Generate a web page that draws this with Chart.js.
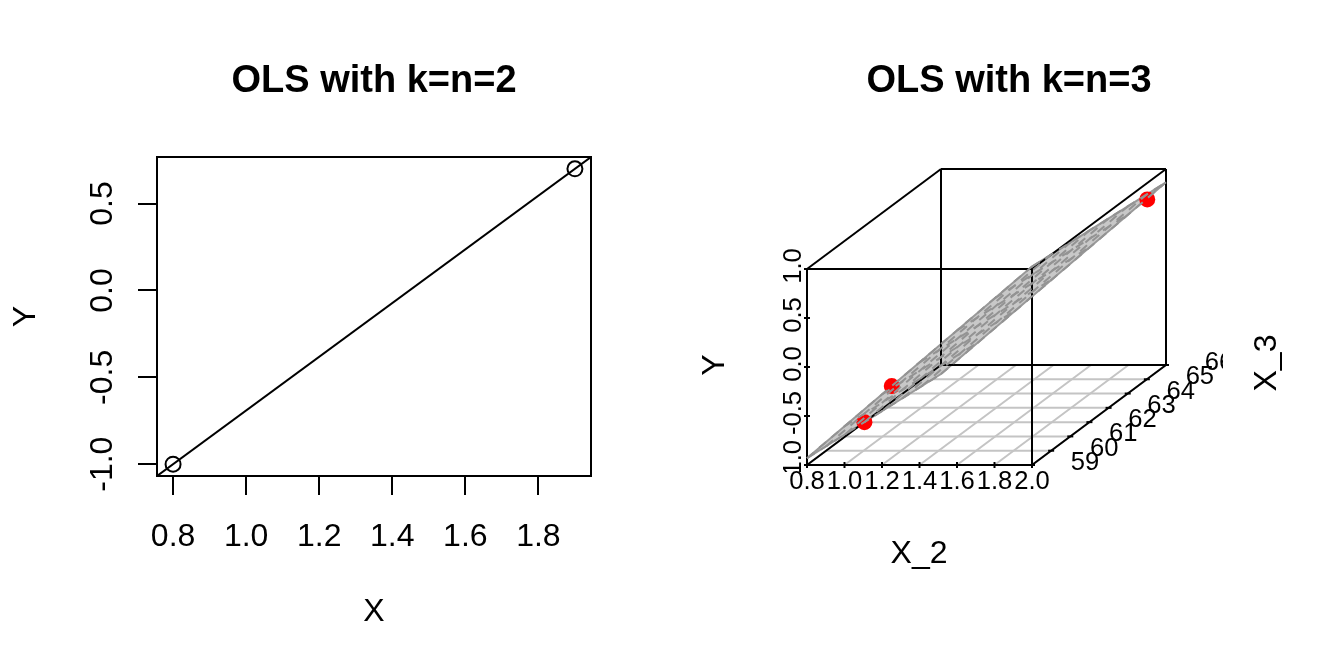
<!DOCTYPE html>
<html>
<head>
<meta charset="utf-8">
<title>OLS with k=n</title>
<script src="https://cdn.jsdelivr.net/npm/chart.js@4"></script>
<style>
    html, body { margin: 0; padding: 0; background: #ffffff; overflow: hidden; }
    canvas { position: absolute; top: 0; }
    #leftChart { left: 0; }
    #rightChart { left: 672px; }
</style>
</head>
<body>
<canvas id="leftChart" width="672" height="672"></canvas>
<canvas id="rightChart" width="672" height="672"></canvas>
<script>
// Left panel data
const leftX = [0.8, 1.9];
const leftY = [-1, 0.7];
const fitX = [0.756, 1.944];
const fitY = [-1.068, 0.768];
const leftXTicks = [0.8, 1.0, 1.2, 1.4, 1.6, 1.8];
const leftYTicks = [-1.0, -0.5, 0.0, 0.5];

// Right panel data
const x2Ticks = [0.8, 1.0, 1.2, 1.4, 1.6, 1.8, 2.0];
const x3Ticks = [59, 60, 61, 62, 63, 64, 65, 66];
const yTicks = [-1.0, -0.5, 0.0, 0.5, 1.0];
const pointX2 = [0.8, 1.15, 1.9];
const pointX3 = [62, 60, 66];
const pointY = [-1, -0.34, 0.69];

// Plane heights read along its edges
const planeYAtX2Low = [-0.931, -0.954, -0.977, -1.0, -1.023, -1.046, -1.069, -1.092];
const planeYAtX2High = [1.025, 1.002, 0.979, 0.956, 0.933, 0.91, 0.887, 0.864];
const planeYAtX3Low = [-0.931, -0.605, -0.279, 0.047, 0.373, 0.699, 1.025];
const planeYAtX3High = [-1.092, -0.766, -0.44, -0.114, 0.212, 0.538, 0.864];

const FONT = '"Liberation Sans", Arial, sans-serif';
const BLACK = '#000000';
const LINE_W = 2;

Chart.defaults.font.family = FONT;
Chart.defaults.color = BLACK;
Chart.defaults.animation = false;

// Draws the full frame round the left plot
const framePlugin = {
    id: 'frame',
    afterDatasetsDraw(chart) {
        const a = chart.chartArea;
        const ctx = chart.ctx;
        ctx.save();
        ctx.strokeStyle = BLACK;
        ctx.lineWidth = LINE_W;
        ctx.strokeRect(a.left, a.top, a.right - a.left, a.bottom - a.top);
        ctx.restore();
    }
};

new Chart(document.getElementById('leftChart'), {
    type: 'scatter',
    data: {
        datasets: [{
            data: leftX.map((x, i) => ({ x: x, y: leftY[i] })),
            pointStyle: 'circle',
            pointRadius: 7.5,
            borderColor: BLACK,
            borderWidth: LINE_W,
            backgroundColor: 'rgba(0,0,0,0)'
        }, {
            data: fitX.map((x, i) => ({ x: x, y: fitY[i] })),
            showLine: true,
            pointRadius: 0,
            borderColor: BLACK,
            borderWidth: LINE_W
        }]
    },
    options: {
        responsive: false,
        layout: { padding: { left: 0, right: 81, top: 0, bottom: 0 } },
        scales: {
            x: {
                type: 'linear',
                min: 0.756,
                max: 1.944,
                afterBuildTicks: s => { s.ticks = leftXTicks.map(v => ({ value: v })); },
                afterFit: s => { s.height = 196; },
                grid: { drawOnChartArea: false, color: BLACK, lineWidth: LINE_W, tickLength: 19 },
                border: { color: BLACK, width: LINE_W },
                ticks: { font: { size: 32 }, padding: 23, maxRotation: 0, callback: v => v.toFixed(1) },
                title: { display: true, text: 'X', font: { size: 32, lineHeight: 1 }, padding: { top: 0, bottom: 44 } }
            },
            y: {
                min: -1.068,
                max: 0.768,
                afterBuildTicks: s => { s.ticks = leftYTicks.map(v => ({ value: v })); },
                afterFit: s => { s.width = 157; },
                grid: { drawOnChartArea: false, color: BLACK, lineWidth: LINE_W, tickLength: 19 },
                border: { color: BLACK, width: LINE_W },
                ticks: {
                    font: { size: 32 },
                    padding: 7,
                    minRotation: 90,
                    maxRotation: 90,
                    crossAlign: 'center',
                    callback: v => v.toFixed(1)
                },
                title: { display: true, text: 'Y', font: { size: 32, lineHeight: 1 }, padding: { top: 10, bottom: 0 } }
            }
        },
        plugins: {
            legend: { display: false },
            tooltip: { enabled: false },
            title: {
                display: true,
                text: 'OLS with k=n=2',
                fullSize: false,
                color: BLACK,
                font: { size: 38, weight: 'bold', lineHeight: 1 },
                padding: { top: 63, bottom: 56 }
            }
        }
    },
    plugins: [framePlugin]
});

// Oblique projection used by the 3D panel: depth shifts X_2 and Y
const x3Min = x3Ticks[0];
const x3Max = x3Ticks[x3Ticks.length - 1];
const depthX = 0.7147;
const depthY = 1.0204;

function project(x2, x3, y) {
    const d = (x3 - x3Min) / (x3Max - x3Min);
    return { x: x2 + d * depthX, y: y + d * depthY };
}

const x2Lo = x2Ticks[0];
const x2Hi = x2Ticks[x2Ticks.length - 1];
const yLo = yTicks[0];
const yHi = yTicks[yTicks.length - 1];

function lineSet(points, color, width, order, dash) {
    return {
        data: points,
        showLine: true,
        pointRadius: 0,
        borderColor: color,
        borderWidth: width,
        borderDash: dash || [],
        fill: false,
        clip: false,
        order: order
    };
}

const datasets3d = [];

// Floor grid
x2Ticks.forEach(v => {
    datasets3d.push(lineSet([project(v, x3Min, yLo), project(v, x3Max, yLo)], '#c4c4c4', 2, 50));
});
x3Ticks.forEach(v => {
    datasets3d.push(lineSet([project(x2Lo, v, yLo), project(x2Hi, v, yLo)], '#c4c4c4', 2, 50));
});

// Plane outline; its fill is painted just before this dataset
const planeOutline = [
    project(x2Lo, x3Min, planeYAtX2Low[0]),
    project(x2Hi, x3Min, planeYAtX2High[0]),
    project(x2Hi, x3Max, planeYAtX2High[7]),
    project(x2Lo, x3Max, planeYAtX2Low[7]),
    project(x2Lo, x3Min, planeYAtX2Low[0])
];
const planeIndex = datasets3d.length;
datasets3d.push(lineSet(planeOutline, '#999999', 2, 40));

const planeFill = {
    id: 'planeFill',
    beforeDatasetDraw(chart, args) {
        if (args.index !== planeIndex) return;
        const ctx = chart.ctx;
        ctx.save();
        ctx.fillStyle = '#c8c8c8';
        ctx.beginPath();
        planeOutline.forEach((p, i) => {
            const x = chart.scales.x.getPixelForValue(p.x);
            const y = chart.scales.y.getPixelForValue(p.y);
            if (i === 0) ctx.moveTo(x, y); else ctx.lineTo(x, y);
        });
        ctx.closePath();
        ctx.fill();
        ctx.restore();
    }
};

// Box edges
const boxEdges = [
    [[x2Lo, x3Min, yLo], [x2Hi, x3Min, yLo]],
    [[x2Lo, x3Min, yHi], [x2Hi, x3Min, yHi]],
    [[x2Lo, x3Max, yLo], [x2Hi, x3Max, yLo]],
    [[x2Lo, x3Max, yHi], [x2Hi, x3Max, yHi]],
    [[x2Lo, x3Min, yLo], [x2Lo, x3Max, yLo]],
    [[x2Hi, x3Min, yLo], [x2Hi, x3Max, yLo]],
    [[x2Lo, x3Min, yHi], [x2Lo, x3Max, yHi]],
    [[x2Hi, x3Min, yHi], [x2Hi, x3Max, yHi]],
    [[x2Lo, x3Min, yLo], [x2Lo, x3Min, yHi]],
    [[x2Hi, x3Min, yLo], [x2Hi, x3Min, yHi]],
    [[x2Lo, x3Max, yLo], [x2Lo, x3Max, yHi]],
    [[x2Hi, x3Max, yLo], [x2Hi, x3Max, yHi]]
];
boxEdges.forEach(e => {
    datasets3d.push(lineSet([project(...e[0]), project(...e[1])], BLACK, LINE_W, 30));
});

// Short tick marks along the three axes
function tickSet(points, rotation) {
    return {
        data: points,
        pointStyle: 'line',
        pointRadius: 3,
        rotation: rotation,
        borderColor: BLACK,
        borderWidth: LINE_W,
        clip: false,
        order: 25
    };
}
datasets3d.push(tickSet(x2Ticks.map(v => project(v, x3Min, yLo)), 90));
datasets3d.push(tickSet(yTicks.map(v => project(x2Lo, x3Min, v)), 0));
datasets3d.push(tickSet(x3Ticks.map(v => project(x2Hi, v, yLo)), 0));

// Red observations
datasets3d.push({
    data: pointX2.map((v, i) => project(v, pointX3[i], pointY[i])),
    pointStyle: 'circle',
    pointRadius: 8,
    backgroundColor: '#ff0000',
    borderWidth: 0,
    clip: false,
    order: 20
});

// Dashed plane lines go on top of everything
x3Ticks.forEach((v, i) => {
    datasets3d.push(lineSet([project(x2Lo, v, planeYAtX2Low[i]), project(x2Hi, v, planeYAtX2High[i])], '#939393', 2, 10, [9, 7]));
});
x2Ticks.forEach((v, i) => {
    datasets3d.push(lineSet([project(v, x3Min, planeYAtX3Low[i]), project(v, x3Max, planeYAtX3High[i])], '#939393', 2, 10, [9, 7]));
});

// Axis text of the 3D panel, placed from the scales
const labels3d = {
    id: 'labels3d',
    afterDraw(chart) {
        const ctx = chart.ctx;
        const sx = chart.scales.x;
        const sy = chart.scales.y;
        const a = chart.chartArea;
        const px = p => sx.getPixelForValue(p.x);
        const py = p => sy.getPixelForValue(p.y);
        ctx.save();
        ctx.fillStyle = BLACK;
        ctx.textAlign = 'center';
        ctx.textBaseline = 'middle';

        // X_2 labels run past the plot region
        ctx.font = '25.6px ' + FONT;
        x2Ticks.forEach(v => {
            const p = project(v, x3Min, yLo);
            ctx.fillText(v.toFixed(1), px(p), py(p) + 17);
        });

        // Y and X_3 labels are cut at the plot region edge
        ctx.save();
        ctx.beginPath();
        ctx.rect(0, 0, a.left + 416, a.bottom + 7);
        ctx.clip();
        yTicks.forEach(v => {
            const p = project(x2Lo, x3Min, v);
            ctx.save();
            ctx.translate(px(p) - 13, py(p) - 3);
            ctx.rotate(-Math.PI / 2);
            ctx.fillText(v.toFixed(1), 0, 0);
            ctx.restore();
        });
        x3Ticks.forEach(v => {
            const p = project(x2Hi, v, yLo);
            ctx.fillText(String(v), px(p) + 53, py(p) - 2);
        });
        ctx.restore();

        // Axis names
        ctx.font = '32px ' + FONT;
        ctx.fillText('X_2', a.left + 112, a.bottom + 89);
        ctx.save();
        ctx.translate(a.left - 92, a.bottom - 100);
        ctx.rotate(-Math.PI / 2);
        ctx.fillText('Y', 0, 0);
        ctx.restore();
        ctx.save();
        ctx.translate(a.left + 460, a.bottom - 102);
        ctx.rotate(-Math.PI / 2);
        ctx.fillText('X_3', 0, 0);
        ctx.restore();
        ctx.restore();
    }
};

new Chart(document.getElementById('rightChart'), {
    type: 'scatter',
    data: { datasets: datasets3d },
    options: {
        responsive: false,
        // plot area runs wider than the box so the title centres over the panel
        layout: { padding: { left: 135, right: 133, top: 0, bottom: 207 } },
        scales: {
            x: { type: 'linear', display: false, min: 0.8, max: 0.8 + 404 / 187.5 },
            y: { display: false, min: -1, max: 1 + depthY }
        },
        plugins: {
            legend: { display: false },
            tooltip: { enabled: false },
            title: {
                display: true,
                text: 'OLS with k=n=3',
                color: BLACK,
                font: { size: 38, weight: 'bold', lineHeight: 1 },
                padding: { top: 63, bottom: 68 }
            }
        }
    },
    plugins: [planeFill, labels3d]
});
</script>
</body>
</html>
